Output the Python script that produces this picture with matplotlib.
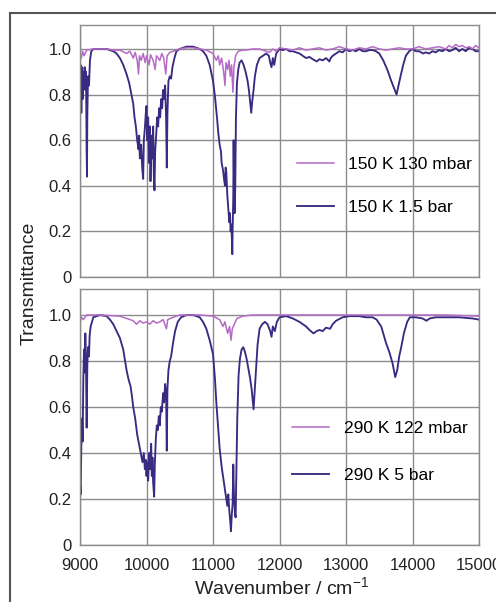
import numpy as np
import matplotlib
matplotlib.use("Agg")
import matplotlib.pyplot as plt
from matplotlib.lines import Line2D

plt.rcParams['font.family'] = ['Liberation Sans', 'DejaVu Sans']
plt.rcParams['mathtext.fontset'] = 'custom'
plt.rcParams['mathtext.rm'] = 'Liberation Sans'

# --- upper panel: 150 K ---
wn_150_hi = [9000, 9010, 9020, 9030, 9040, 9050, 9060, 9070, 9080, 9090, 9100, 9105, 9110, 9120,
             9135, 9150, 9170, 9200, 9300, 9400, 9500, 9550, 9600, 9650, 9700, 9740, 9780, 9800,
             9820, 9840, 9860, 9880, 9890, 9900, 9920, 9935, 9950, 9960, 9975, 9990, 10000, 10010,
             10025, 10040, 10050, 10060, 10075, 10090, 10100, 10110, 10120, 10130, 10145, 10160,
             10175, 10190, 10205, 10220, 10235, 10250, 10265, 10280, 10295, 10305, 10315, 10330,
             10350, 10370, 10390, 10420, 10450, 10500, 10600, 10700, 10800, 10850, 10900, 10950,
             11000, 11030, 11060, 11080, 11100, 11120, 11130, 11150, 11170, 11180, 11190, 11200,
             11215, 11230, 11245, 11255, 11265, 11275, 11285, 11290, 11295, 11305, 11310, 11315,
             11325, 11335, 11345, 11360, 11380, 11400, 11430, 11460, 11490, 11520, 11540, 11560,
             11575, 11590, 11610, 11630, 11660, 11700, 11750, 11800, 11840, 11860, 11880, 11900,
             11920, 11950, 12000, 12050, 12100, 12150, 12200, 12250, 12300, 12350, 12400, 12450,
             12500, 12530, 12560, 12600, 12650, 12700, 12750, 12770, 12800, 12850, 12900, 12950,
             13000, 13050, 13100, 13150, 13200, 13250, 13300, 13350, 13400, 13450, 13500, 13560,
             13620, 13680, 13720, 13760, 13790, 13820, 13860, 13900, 13950, 14000, 14050, 14100,
             14160, 14200, 14250, 14300, 14350, 14400, 14450, 14500, 14550, 14600, 14650, 14700,
             14750, 14800, 14850, 14900, 14950, 15000]
tr_150_hi = [0.86, 0.93, 0.72, 0.92, 0.78, 0.90, 0.84, 0.92, 0.82, 0.90, 0.55, 0.44, 0.70, 0.88,
             0.84, 0.95, 0.99, 1.00, 1.00, 1.00, 0.99, 0.98, 0.96, 0.93, 0.89, 0.85, 0.79, 0.76,
             0.70, 0.66, 0.60, 0.56, 0.62, 0.52, 0.58, 0.48, 0.43, 0.60, 0.65, 0.72, 0.75, 0.60,
             0.70, 0.50, 0.66, 0.42, 0.62, 0.52, 0.66, 0.45, 0.38, 0.55, 0.62, 0.70,
             0.66, 0.74, 0.70, 0.78, 0.74, 0.82, 0.78, 0.84, 0.70, 0.48, 0.72, 0.86,
             0.88, 0.87, 0.92, 0.96, 0.99, 1.00, 1.01, 1.01, 1.00, 0.99, 0.97, 0.93,
             0.86, 0.79, 0.70, 0.63, 0.58, 0.55, 0.50, 0.47, 0.42, 0.40, 0.48, 0.46,
             0.36, 0.30, 0.24, 0.28, 0.20, 0.23, 0.16, 0.10, 0.20, 0.35, 0.60, 0.45,
             0.28, 0.40, 0.70, 0.85, 0.91, 0.94, 0.95, 0.93, 0.90, 0.86, 0.82, 0.76,
             0.72, 0.77, 0.82, 0.88, 0.93, 0.96, 0.97, 0.98, 0.97, 0.94, 0.92, 0.96,
             0.93, 0.98, 1.00, 0.995, 1.00, 0.99, 0.99, 0.985, 0.98, 0.97, 0.96, 0.965,
             0.955, 0.95, 0.945, 0.955, 0.95, 0.96, 0.945, 0.96, 0.97, 0.98, 0.99, 0.985,
             1.00, 0.99, 0.995, 0.99, 1.00, 0.99, 0.99, 0.995, 0.995, 0.99, 0.98, 0.95,
             0.91, 0.86, 0.83, 0.80, 0.84, 0.88, 0.93, 0.97, 0.99, 1.00, 0.99, 0.99,
             0.98, 0.985, 0.98, 0.99, 0.985, 0.995, 0.99, 1.00, 0.99, 0.995, 1.005, 0.99,
             1.00, 0.99, 1.005, 1.00, 0.99, 0.99]

wn_150_lo = [9000, 9020, 9040, 9060, 9100, 9200, 9300, 9400, 9500, 9600, 9700, 9750, 9800, 9830,
             9860, 9880, 9895, 9920, 9950, 9980, 10000, 10040, 10060, 10100, 10130, 10150, 10200,
             10230, 10260, 10290, 10310, 10350, 10400, 10500, 10600, 10700, 10800, 10900, 11000,
             11050, 11080, 11100, 11130, 11160, 11180, 11195, 11220, 11240, 11260, 11280, 11300,
             11315, 11340, 11380, 11450, 11500, 11600, 11700, 11800, 11850, 11900, 11950, 12000,
             12100, 12200, 12300, 12400, 12500, 12600, 12700, 12800, 12900, 13000, 13100, 13200,
             13300, 13400, 13500, 13600, 13700, 13800, 13900, 14000, 14100, 14200, 14300, 14400,
             14500, 14550, 14600, 14650, 14700, 14750, 14800, 14850, 14900, 14950, 15000]
tr_150_lo = [0.98, 0.96, 0.99, 0.97, 0.995, 1.00, 1.00, 1.00, 0.995, 0.995, 0.98, 0.99, 0.96, 0.985,
             0.95, 0.89, 0.97, 0.95, 0.98, 0.94, 0.97, 0.93, 0.975, 0.95, 0.91, 0.97, 0.95,
             0.98, 0.96, 0.89, 0.97, 0.985, 0.99, 1.00, 1.005, 1.005, 1.00, 0.995, 0.98,
             0.95, 0.97, 0.93, 0.96, 0.90, 0.84, 0.94, 0.91, 0.95, 0.88, 0.93, 0.81,
             0.92, 0.97, 0.99, 0.995, 0.995, 1.00, 1.00, 0.99, 0.985, 1.00, 0.99, 1.005,
             1.00, 0.995, 1.005, 0.995, 1.00, 1.005, 0.995, 1.00, 1.01, 1.00, 0.995, 1.005,
             1.00, 1.01, 1.00, 0.995, 1.00, 1.005, 1.00, 1.00, 1.01, 1.00, 1.005, 1.01,
             1.00, 1.015, 1.005, 1.02, 1.01, 1.015, 1.005, 1.01, 1.00, 1.015, 1.005]

# --- lower panel: 290 K ---
wn_290_hi = [9000, 9010, 9020, 9030, 9040, 9050, 9060, 9070, 9080, 9090, 9100, 9110, 9120, 9135,
             9145, 9160, 9180, 9200, 9300, 9400, 9450, 9500, 9550, 9600, 9650, 9700, 9730, 9760,
             9780, 9800, 9830, 9860, 9880, 9900, 9920, 9940, 9960, 9975, 9990, 10000, 10010,
             10025, 10040, 10055, 10070, 10080, 10090, 10100, 10115, 10125, 10140, 10155, 10170,
             10185, 10200, 10215, 10230, 10250, 10265, 10280, 10295, 10305, 10315, 10330, 10350,
             10370, 10400, 10430, 10470, 10520, 10600, 10700, 10800, 10850, 10900, 10950, 11000,
             11030, 11050, 11080, 11100, 11130, 11155, 11180, 11200, 11215, 11230, 11245, 11260,
             11270, 11280, 11295, 11305, 11315, 11330, 11340, 11350, 11365, 11385, 11405, 11430,
             11455, 11480, 11505, 11530, 11555, 11580, 11600, 11610, 11625, 11645, 11670, 11700,
             11740, 11780, 11820, 11860, 11880, 11900, 11930, 11960, 12000, 12100, 12200, 12300,
             12400, 12450, 12510, 12560, 12600, 12650, 12700, 12760, 12800, 12850, 12950, 13050,
             13200, 13300, 13400, 13460, 13530, 13600, 13650, 13700, 13740, 13770, 13800, 13830,
             13870, 13920, 13960, 14050, 14150, 14210, 14260, 14350, 14500, 14700, 14900, 15000]
tr_290_hi = [0.27, 0.22, 0.43, 0.55, 0.45, 0.72, 0.85, 0.75, 0.92, 0.80, 0.51, 0.78, 0.86, 0.82,
             0.91, 0.95, 0.97, 0.99, 1.00, 0.995, 0.98, 0.96, 0.93, 0.90, 0.85, 0.76, 0.72, 0.69,
             0.65, 0.60, 0.55, 0.48, 0.45, 0.42, 0.39, 0.36, 0.40, 0.33, 0.37, 0.30, 0.36,
             0.28, 0.40, 0.33, 0.44, 0.30, 0.38, 0.27, 0.21, 0.35, 0.46, 0.52, 0.50,
             0.56, 0.52, 0.60, 0.58, 0.66, 0.62, 0.70, 0.66, 0.41, 0.68, 0.76, 0.80,
             0.82, 0.88, 0.93, 0.97, 0.99, 1.00, 1.00, 0.99, 0.97, 0.94, 0.89, 0.83,
             0.72, 0.62, 0.50, 0.42, 0.34, 0.29, 0.24, 0.20, 0.17, 0.22, 0.15, 0.10,
             0.06, 0.12, 0.18, 0.35, 0.22, 0.14, 0.12, 0.30, 0.55, 0.74, 0.81, 0.85,
             0.86, 0.84, 0.81, 0.77, 0.73, 0.68, 0.62, 0.59, 0.66, 0.75, 0.87, 0.94,
             0.96, 0.97, 0.96, 0.93, 0.905, 0.95, 0.93, 0.97, 0.99, 0.995, 0.985, 0.97,
             0.95, 0.935, 0.92, 0.93, 0.935, 0.93, 0.945, 0.94, 0.96, 0.975, 0.99, 0.995,
             0.995, 0.99, 0.99, 0.98, 0.95, 0.88, 0.84, 0.79, 0.73, 0.76, 0.82, 0.86,
             0.92, 0.97, 0.99, 0.99, 0.985, 0.975, 0.985, 0.99, 0.99, 0.99, 0.985, 0.98]

wn_290_lo = [9000, 9020, 9050, 9100, 9300, 9600, 9700, 9800, 9850, 9900, 9950, 10000, 10050,
             10100, 10150, 10200, 10250, 10300, 10320, 10400, 10500, 10800, 11000, 11100, 11150,
             11180, 11220, 11250, 11270, 11290, 11320, 11360, 11450, 11600, 12000, 12500, 13000,
             13500, 14000, 14500, 15000]
tr_290_lo = [0.97, 0.99, 0.98, 1.00, 1.00, 0.995, 0.985, 0.975, 0.96, 0.975, 0.965, 0.97, 0.96,
             0.975, 0.965, 0.97, 0.98, 0.94, 0.98, 0.99, 1.00, 1.00, 0.995, 0.98, 0.95,
             0.97, 0.92, 0.95, 0.89, 0.94, 0.96, 0.985, 0.995, 1.00, 1.00, 1.00, 1.00,
             1.00, 1.00, 1.00, 0.995]

c_lo = '#b66ac6'
c_hi = '#3b2a82'
grid_c = '#8c8c8c'

fig = plt.figure(figsize=(4.96, 6.02), dpi=100)
ax1 = fig.add_axes([80 / 496, 1 - 277 / 602, 399 / 496, 252 / 602])
ax2 = fig.add_axes([80 / 496, 1 - 545 / 602, 399 / 496, 256 / 602])

panels = [(ax1, wn_150_hi, tr_150_hi, wn_150_lo, tr_150_lo, '150 K 130 mbar', '150 K 1.5 bar',
           1.105, (0.505, 0.54), 1.6),
          (ax2, wn_290_hi, tr_290_hi, wn_290_lo, tr_290_lo, '290 K 122 mbar', '290 K 5 bar',
           1.113, (0.493, 0.545), 1.8)]

for ax, wh, th, wl, tl, lab_lo, lab_hi, ytop, anchor, lspace in panels:
    h_hi, = ax.plot(wh, th, color=c_hi, lw=1.35)
    h_lo, = ax.plot(wl, tl, color=c_lo, lw=1.1)
    ax.set_xlim(9000, 15000)
    ax.set_ylim(0, ytop)
    ax.set_xticks(np.arange(9000, 15001, 1000))
    ax.set_yticks([0, 0.2, 0.4, 0.6, 0.8, 1.0])
    ax.set_yticklabels(['0', '0.2', '0.4', '0.6', '0.8', '1.0'])
    ax.grid(True, color=grid_c, lw=1.0)
    ax.set_axisbelow(True)
    for s in ax.spines.values():
        s.set_color(grid_c)
        s.set_linewidth(1.0)
    ax.tick_params(length=0, labelsize=12, colors='#222222')
    ax.tick_params(axis='y', pad=6)
    ax.tick_params(axis='x', pad=9)
    ax.legend([h_lo, h_hi], [lab_lo, lab_hi], frameon=False, fontsize=12.5,
              loc='upper left', handlelength=2.1, handletextpad=0.85, labelspacing=lspace,
              bbox_to_anchor=anchor)

ax1.tick_params(axis='x', labelbottom=False)

fig.text(29 / 496, 1 - 283 / 602, 'Transmittance', rotation=90, ha='center', va='center',
         fontsize=14, color='#222222')
fig.text(282 / 496, 1 - 588 / 602, r'Wavenumber / cm$^{\mathregular{-1}}$', ha='center', va='center',
         fontsize=14, color='#222222')

# outer frame (left and top edges visible)
fig.add_artist(Line2D([10 / 496, 10 / 496], [0, 1 - 13 / 602], color='#555555', lw=1.5,
                      transform=fig.transFigure))
fig.add_artist(Line2D([10 / 496, 1], [1 - 13 / 602, 1 - 13 / 602], color='#555555', lw=1.5,
                      transform=fig.transFigure))

fig.savefig('out.png', dpi=100)
